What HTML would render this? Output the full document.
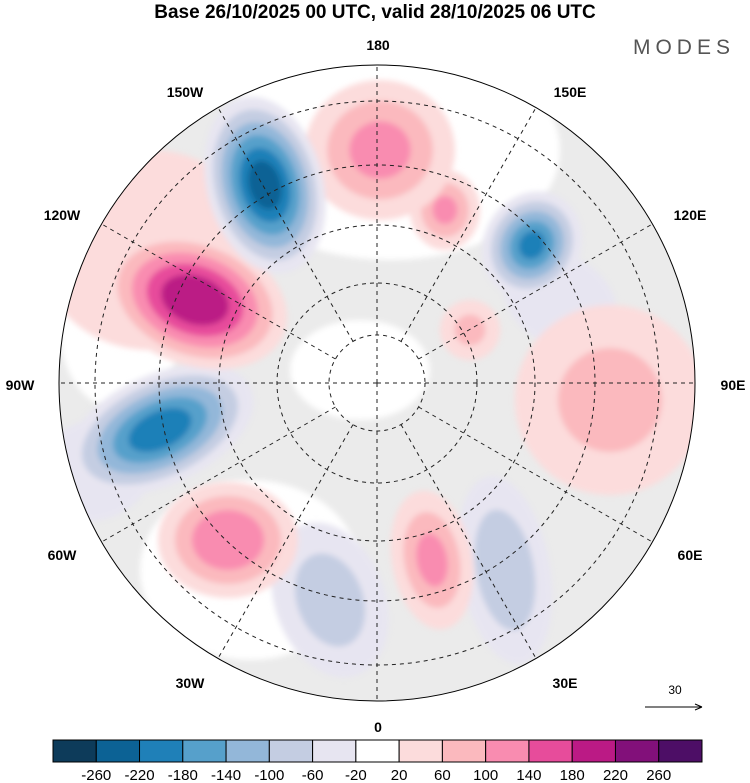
<!DOCTYPE html>
<html><head><meta charset="utf-8"><style>
body{margin:0;background:#fff;width:750px;height:783px;overflow:hidden;font-family:"Liberation Sans",sans-serif}
svg{display:block}
</style></head><body>
<svg id="chart" width="750" height="783" viewBox="0 0 750 783">
<defs>
<clipPath id="disk"><circle cx="377" cy="383" r="318"/></clipPath>
<filter id="soft" x="-10%" y="-10%" width="120%" height="120%"><feGaussianBlur stdDeviation="3"/></filter>
</defs>
<text x="375" y="18" text-anchor="middle" font-size="19" font-weight="bold">Base 26/10/2025 00 UTC, valid 28/10/2025 06 UTC</text>
<text x="735" y="54" text-anchor="end" font-size="21" fill="#555" letter-spacing="5">MODES</text>
<g clip-path="url(#disk)">
  <circle cx="377" cy="383" r="318" fill="#ebebeb"/>
  <g id="oceans" filter="url(#soft)"></g>
  <g id="blobs" filter="url(#soft)"></g>
  <g id="grid"></g>
</g>
<circle cx="377" cy="383" r="318" fill="none" stroke="#000" stroke-width="1"/>
<g id="lonlabels" font-size="14" font-weight="bold"></g>
<g>
  <text x="675" y="694" text-anchor="middle" font-size="12">30</text>
  <line x1="645" y1="707" x2="702" y2="707" stroke="#000" stroke-width="1"/>
  <path d="M702,707 l-7,-3 M702,707 l-7,3" stroke="#000" stroke-width="1"/>
</g>
<g id="colorbar"></g>
</svg>
<script>
const levels=[-260,-220,-180,-140,-100,-60,-20,20,60,100,140,180,220,260];
const colors=["#0d3b5a","#0c6295","#1f80b8","#56a0cb","#93b7d9","#c4cde2","#e7e5f1","#ffffff","#fcdcdc","#fbb9be","#f98cb0","#e74c9b","#bb1a85","#82107a","#4d0e66"];
const lonLabels=["180","150E","120E","90E","60E","30E","0","30W","60W","90W","120W","150W"];
const latRadii=[48,100,158,218,282];
// anomaly centres: x, y, rx, ry, rotation, peak value
const blobX=[265,195,160,228,380,445,532,610,330,505,432,150,95,470,560];
const blobY=[185,300,430,540,150,210,245,400,600,570,560,250,470,330,300];
const blobRX=[58,95,100,70,75,35,48,95,55,45,40,110,60,30,60];
const blobRY=[90,65,55,58,70,40,55,95,80,95,70,100,50,30,45];
const blobRot=[-15,20,-25,0,0,0,30,0,-20,-10,-10,0,-20,0,30];
const blobVal=[-235,215,-205,140,115,105,-185,75,-85,-95,110,50,-60,70,-40];
const NS="http://www.w3.org/2000/svg";
function mk(tag,attrs,parent){const e=document.createElementNS(NS,tag);for(const k in attrs)e.setAttribute(k,attrs[k]);parent.appendChild(e);return e;}
function colorFor(v){let i=0;while(i<levels.length&&v>=levels[i])i++;return colors[i];}
const cx=377,cy=383,R=318;
const oc=document.getElementById('oceans');
[[390,150,170,110],[250,570,110,90],[360,370,70,50],[120,330,60,80]].forEach(o=>{
  const e=mk('ellipse',{cx:o[0],cy:o[1],rx:o[2],ry:o[3],fill:'#ffffff'},oc);
  
  
});
const bg=document.getElementById('blobs');
const order=blobVal.map((v,i)=>i).sort((a,b)=>Math.abs(blobVal[a])-Math.abs(blobVal[b]));
order.forEach(i=>{
  const v=blobVal[i],s=Math.sign(v),a=Math.abs(v);
  const g=mk('g',{transform:`translate(${blobX[i]},${blobY[i]}) rotate(${blobRot[i]})`},bg);
  
  
  for(let L=20;L<a;L+=40){
    const f=1-0.85*(L-20)/a;
    const e=mk('ellipse',{cx:0,cy:0,rx:blobRX[i]*f,ry:blobRY[i]*f,fill:colorFor(s*(L+1))},g);
    
    
  }
});
const gr=document.getElementById('grid');
latRadii.forEach(r=>{
  const c=mk('circle',{cx,cy,r,fill:'none',stroke:'#222','stroke-width':1,'stroke-dasharray':'4,4'},gr);
  
  
});
for(let k=0;k<12;k++){
  const a=k*30*Math.PI/180;
  const r0=(k%3===0)?0:48;
  const l=mk('line',{x1:cx+r0*Math.sin(a),y1:cy-r0*Math.cos(a),x2:cx+R*Math.sin(a),y2:cy-R*Math.cos(a),stroke:'#222','stroke-width':1,'stroke-dasharray':'4,4'},gr);
  
  
}
const ll=document.getElementById('lonlabels');
const labPos=[[378,50],[570,97],[690,220],[733,390],[690,560],[565,688],[378,732],[190,688],[62,560],[20,390],[62,220],[185,97]];
lonLabels.forEach((t,k)=>{
  const e=mk('text',{x:labPos[k][0],y:labPos[k][1],'text-anchor':'middle'},ll);e.textContent=t;
  
  
});
const cb=document.getElementById('colorbar');
const x0=53,w=(702-53)/colors.length;
colors.forEach((c,i)=>{
  const r=mk('rect',{x:x0+i*w,y:740,width:w,height:22,fill:c,stroke:'#000','stroke-width':1},cb);
  
  
});
levels.forEach((v,i)=>{
  const t=mk('text',{x:x0+(i+1)*w,y:780,'text-anchor':'middle','font-size':15},cb);t.textContent=v;
  
  
});
</script>
</body></html>
